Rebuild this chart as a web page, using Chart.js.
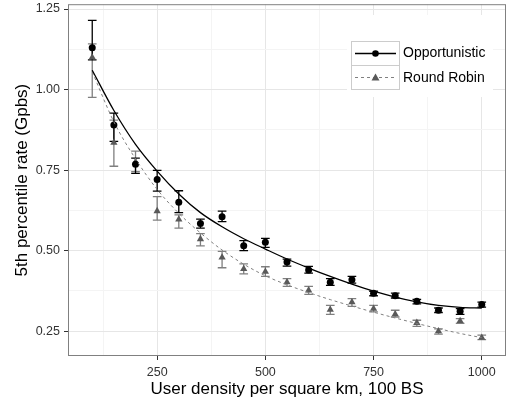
<!DOCTYPE html>
<html>
<head>
<meta charset="utf-8">
<script src="https://cdn.jsdelivr.net/npm/chart.js@4.4.1/dist/chart.umd.min.js"></script>
<style>
  html, body { margin: 0; padding: 0; background: #fff; }
  #wrap { width: 511px; height: 403px; }
</style>
</head>
<body>
<div id="wrap"><canvas id="chart" width="511" height="403"></canvas></div>
<script>
// user density (x) and 5th percentile rate
const density = [100, 150, 200, 250, 300, 350, 400, 450, 500, 550, 600, 650, 700, 750, 800, 850, 900, 950, 1000];

const oppRate = [1.13, 0.89, 0.768, 0.721, 0.65, 0.584, 0.605, 0.515, 0.526, 0.465, 0.44, 0.402, 0.41, 0.368, 0.36, 0.343, 0.315, 0.312, 0.333];
const oppLow  = [1.092, 0.839, 0.740, 0.685, 0.618, 0.570, 0.590, 0.500, 0.510, 0.452, 0.430, 0.392, 0.399, 0.360, 0.353, 0.335, 0.308, 0.302, 0.325];
const oppHigh = [1.215, 0.927, 0.787, 0.749, 0.686, 0.598, 0.623, 0.531, 0.538, 0.474, 0.451, 0.413, 0.420, 0.374, 0.368, 0.349, 0.322, 0.320, 0.340];
const oppFit  = [1.06, 0.935, 0.83, 0.747, 0.676, 0.618, 0.574, 0.537, 0.505, 0.474, 0.446, 0.42, 0.396, 0.374, 0.356, 0.341, 0.33, 0.324, 0.322];

const rrRate = [1.10, 0.835, 0.775, 0.623, 0.597, 0.536, 0.479, 0.443, 0.435, 0.402, 0.377, 0.317, 0.34, 0.32, 0.303, 0.276, 0.25, 0.282, 0.23];
const rrLow  = [0.976, 0.762, 0.745, 0.595, 0.570, 0.515, 0.447, 0.428, 0.420, 0.389, 0.364, 0.302, 0.327, 0.310, 0.294, 0.265, 0.241, 0.274, 0.224];
const rrHigh = [1.142, 0.905, 0.809, 0.668, 0.611, 0.553, 0.498, 0.459, 0.450, 0.413, 0.389, 0.330, 0.351, 0.330, 0.315, 0.284, 0.257, 0.289, 0.238];
const rrFit  = [1.055, 0.90, 0.785, 0.69, 0.616, 0.555, 0.502, 0.458, 0.422, 0.394, 0.37, 0.348, 0.328, 0.309, 0.291, 0.274, 0.258, 0.243, 0.23];

const xTicks = [250, 500, 750, 1000];
const xMinor = [125, 375, 625, 875];
const yTicks = [0.25, 0.5, 0.75, 1.0, 1.25];
const yMinor = [0.375, 0.625, 0.875, 1.125];

const seriesNames = ['Opportunistic', 'Round Robin'];

const toPts = vals => density.map((d, i) => ({ x: d, y: vals[i] }));

Chart.defaults.font.family = "'Liberation Sans', Arial, sans-serif";

// error bars drawn through the chart scales, under the markers
const errorBars = {
  id: 'errorBars',
  beforeDatasetsDraw(chart) {
    const { ctx, scales: { x, y } } = chart;
    const bars = [
      { lo: rrLow, hi: rrHigh, color: 'rgba(95,95,95,0.8)' },
      { lo: oppLow, hi: oppHigh, color: '#000' }
    ];
    ctx.save();
    bars.forEach(b => {
      ctx.strokeStyle = b.color;
      ctx.lineWidth = 1.3;
      density.forEach((d, i) => {
        const px = x.getPixelForValue(d);
        const l = x.getPixelForValue(d - 10);
        const r = x.getPixelForValue(d + 10);
        const yl = y.getPixelForValue(b.lo[i]);
        const yh = y.getPixelForValue(b.hi[i]);
        ctx.beginPath();
        ctx.moveTo(px, yl); ctx.lineTo(px, yh);
        ctx.moveTo(l, yl); ctx.lineTo(r, yl);
        ctx.moveTo(l, yh); ctx.lineTo(r, yh);
        ctx.stroke();
      });
    });
    ctx.restore();
  }
};

// grey panel border like ggplot's theme_bw
const panelBorder = {
  id: 'panelBorder',
  afterDraw(chart) {
    const { ctx, chartArea: a } = chart;
    ctx.save();
    ctx.strokeStyle = '#808080';
    ctx.lineWidth = 1;
    ctx.strokeRect(a.left + 0.5, a.top + 0.5, a.right - a.left - 1, a.bottom - a.top - 1);
    ctx.restore();
  }
};

// legend box inside the panel
const insetLegend = {
  id: 'insetLegend',
  afterDraw(chart) {
    const ctx = chart.ctx;
    ctx.save();
    ctx.fillStyle = '#fff';
    ctx.fillRect(347, 15, 146, 82);

    ctx.strokeStyle = '#cccccc';
    ctx.lineWidth = 1;
    ctx.strokeRect(351.5, 41.5, 48, 24);
    ctx.strokeRect(351.5, 65.5, 48, 24);

    // Opportunistic key
    ctx.strokeStyle = '#000';
    ctx.lineWidth = 1.3;
    ctx.beginPath(); ctx.moveTo(355, 53.5); ctx.lineTo(396, 53.5); ctx.stroke();
    ctx.fillStyle = '#000';
    ctx.beginPath(); ctx.arc(375.5, 53.5, 3.3, 0, Math.PI * 2); ctx.fill();

    // Round Robin key
    ctx.strokeStyle = '#808080';
    ctx.lineWidth = 1;
    ctx.setLineDash([3, 3]);
    ctx.beginPath(); ctx.moveTo(355, 77.5); ctx.lineTo(396, 77.5); ctx.stroke();
    ctx.setLineDash([]);
    ctx.fillStyle = '#595959';
    ctx.beginPath();
    ctx.moveTo(375.5, 73.5); ctx.lineTo(379.5, 80.5); ctx.lineTo(371.5, 80.5); ctx.closePath();
    ctx.fill();

    ctx.fillStyle = '#000';
    ctx.font = "14px 'Liberation Sans', Arial, sans-serif";
    ctx.textBaseline = 'middle';
    ctx.textAlign = 'left';
    ctx.fillText(seriesNames[0], 403, 53.5);
    ctx.fillText(seriesNames[1], 403, 78);
    ctx.restore();
  }
};

const isMajor = (v, list) => list.some(t => Math.abs(t - v) < 1e-6);

new Chart(document.getElementById('chart'), {
  type: 'scatter',
  data: {
    datasets: [
      {
        label: seriesNames[0] + ' fit',
        type: 'line',
        data: toPts(oppFit),
        borderColor: '#000',
        borderWidth: 1.3,
        pointRadius: 0,
        cubicInterpolationMode: 'monotone',
        fill: false,
        order: 0
      },
      {
        label: seriesNames[1] + ' fit',
        type: 'line',
        data: toPts(rrFit),
        borderColor: '#808080',
        borderWidth: 1,
        borderDash: [3, 3],
        pointRadius: 0,
        cubicInterpolationMode: 'monotone',
        fill: false,
        order: 0
      },
      {
        label: seriesNames[0],
        data: toPts(oppRate),
        pointStyle: 'circle',
        pointRadius: 3.5,
        backgroundColor: '#000',
        borderColor: '#000',
        borderWidth: 0,
        order: 1
      },
      {
        label: seriesNames[1],
        data: toPts(rrRate),
        pointStyle: 'triangle',
        pointRadius: 4.2,
        backgroundColor: '#595959',
        borderColor: '#595959',
        borderWidth: 0,
        order: 2
      }
    ]
  },
  options: {
    responsive: false,
    animation: false,
    layout: { padding: { top: 3, right: 5, left: 0, bottom: 0 } },
    plugins: {
      legend: { display: false },
      tooltip: { enabled: false }
    },
    scales: {
      x: {
        type: 'linear',
        min: 44,
        max: 1056,
        afterBuildTicks: s => { s.ticks = xMinor.concat(xTicks).sort((a, b) => a - b).map(v => ({ value: v })); },
        afterFit: s => { s.height = 47; s.paddingLeft = 0; s.paddingRight = 0; },
        border: { display: false },
        grid: {
          color: c => isMajor(c.tick.value, xTicks) ? '#e6e6e6' : '#f4f4f4',
          tickColor: c => isMajor(c.tick.value, xTicks) ? '#333' : 'rgba(0,0,0,0)',
          tickLength: 4,
          lineWidth: 1
        },
        ticks: {
          autoSkip: false,
          maxRotation: 0,
          padding: 5,
          color: '#333',
          font: { size: 12.5 },
          callback: v => isMajor(v, xTicks) ? String(v) : ''
        },
        title: {
          display: true,
          text: 'User density per square km, 100 BS',
          color: '#000',
          font: { size: 17 },
          padding: { top: 0, bottom: 3 }
        }
      },
      y: {
        type: 'linear',
        min: 0.173,
        max: 1.265,
        afterBuildTicks: s => { s.ticks = yMinor.concat(yTicks).sort((a, b) => a - b).map(v => ({ value: v })); },
        afterFit: s => { s.width = 68; s.paddingTop = 0; s.paddingBottom = 0; },
        border: { display: false },
        grid: {
          color: c => isMajor(c.tick.value, yTicks) ? '#e6e6e6' : '#f4f4f4',
          tickColor: c => isMajor(c.tick.value, yTicks) ? '#333' : 'rgba(0,0,0,0)',
          tickLength: 4,
          lineWidth: 1
        },
        ticks: {
          autoSkip: false,
          padding: 4,
          color: '#333',
          font: { size: 12.5 },
          callback: v => isMajor(v, yTicks) ? v.toFixed(2) : ''
        },
        title: {
          display: true,
          text: '5th percentile rate (Gpbs)',
          color: '#000',
          font: { size: 17 },
          padding: { top: 12, bottom: 0 }
        }
      }
    }
  },
  plugins: [errorBars, panelBorder, insetLegend]
});
</script>
</body>
</html>
